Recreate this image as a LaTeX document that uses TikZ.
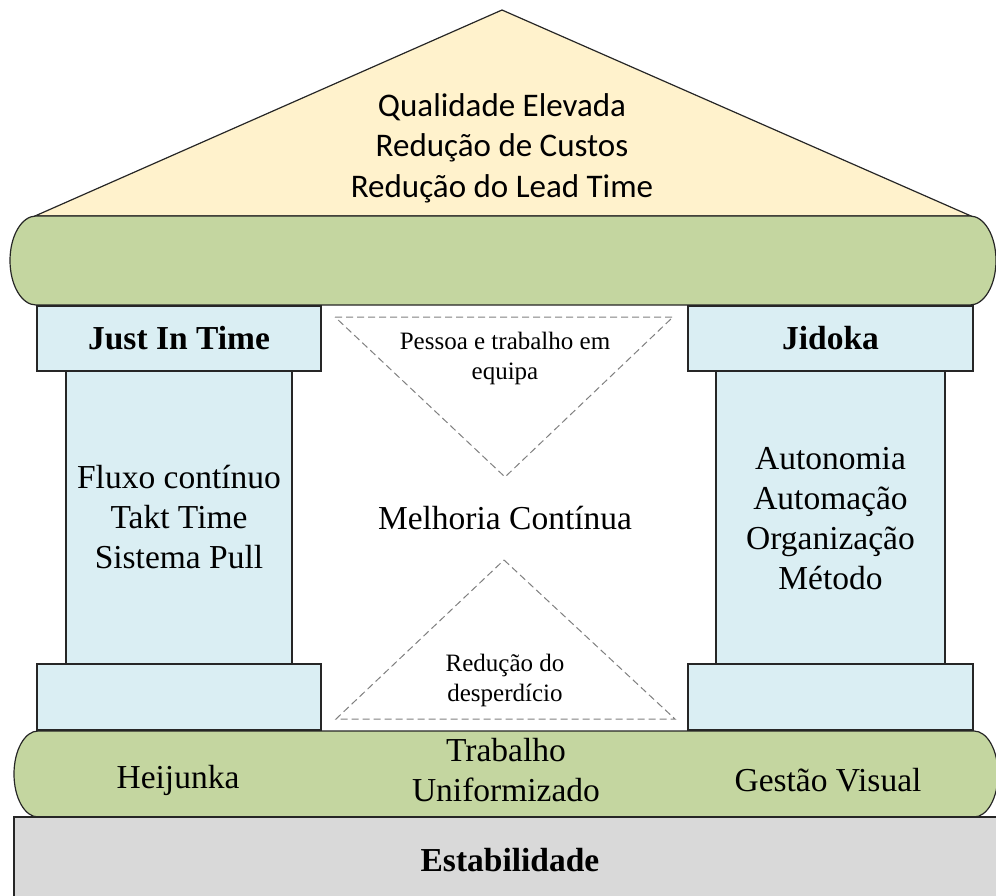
\documentclass[tikz,border=0pt]{standalone}
\usepackage{fontspec}
\setmainfont{Liberation Serif}
\newfontfamily\carlito{Carlito}
\definecolor{roofc}{HTML}{FFF2CC}
\definecolor{bandc}{HTML}{C4D6A0}
\definecolor{pilc}{HTML}{DAEEF3}
\definecolor{basec}{HTML}{D9D9D9}
\definecolor{linec}{HTML}{262626}
\definecolor{dashc}{HTML}{7F7F7F}
\begin{document}
\begin{tikzpicture}[x=1pt,y=-1pt,
  part/.style={draw=linec,line width=1.2pt,fill=pilc,inner sep=0pt,align=center},
  bigtxt/.style={font=\fontsize{33.5}{40}\selectfont,align=center,inner sep=0pt},
  smalltxt/.style={font=\fontsize{25}{30}\selectfont,align=center,inner sep=0pt},
  dashtri/.style={draw=dashc,line width=1pt,dash pattern=on 7pt off 4pt}]
\useasboundingbox (0,0) rectangle (996,896);
% roof
\draw[fill=roofc,draw=linec,line width=1.2pt] (35,216) -- (502,10) -- (971,216) -- cycle;
\node[font=\carlito\fontsize{33}{40.5}\selectfont,align=center,inner sep=0pt] (roof) at (502,148)
  {Qualidade Elevada\\Redução de Custos\\Redução do Lead Time};
% top band
\draw[fill=bandc,draw=linec,line width=1.2pt] (36,216) -- (970,216)
  arc[start angle=90,end angle=-90,x radius=26pt,y radius=44.5pt] -- (36,305)
  arc[start angle=270,end angle=90,x radius=26pt,y radius=44.5pt] -- cycle;
% left pillar
\node[part,minimum width=226pt,minimum height=293pt] (jitshaft) at (179,517.5) {};
\node[part,minimum width=284pt,minimum height=65pt] (jitcap) at (179,338.5) {};
\node[part,minimum width=284pt,minimum height=66pt] (jitbase) at (179,697) {};
\node[font=\bfseries\fontsize{33.5}{40}\selectfont,inner sep=0pt] (jit) at (jitcap) {Just In Time};
\node[bigtxt] (jittxt) at (179,517.5) {Fluxo contínuo\\Takt Time\\Sistema Pull};
% right pillar
\node[part,minimum width=229pt,minimum height=293pt] (jidshaft) at (830.5,517.5) {};
\node[part,minimum width=285pt,minimum height=65pt] (jidcap) at (830.5,338.5) {};
\node[part,minimum width=285pt,minimum height=66pt] (jidbase) at (830.5,697) {};
\node[font=\bfseries\fontsize{33.5}{40}\selectfont,inner sep=0pt] (jid) at (jidcap) {Jidoka};
\node[bigtxt] (jidtxt) at (830.5,519) {Autonomia\\Automação\\Organização\\Método};
% center
\draw[dashtri] (335,317) -- (673,317) -- (505,477) -- cycle;
\node[smalltxt] (pessoa) at (505,358) {Pessoa e trabalho em\\equipa};
\node[bigtxt] (melhoria) at (505,518) {Melhoria Contínua};
\draw[dashtri] (504,560) -- (675,719) -- (336,719) -- cycle;
\node[smalltxt] (reducao) at (505,680) {Redução do\\desperdício};
% bottom band
\draw[fill=bandc,draw=linec,line width=1.2pt] (38,731) -- (974,731)
  arc[start angle=90,end angle=-90,x radius=24pt,y radius=43pt] -- (38,817)
  arc[start angle=270,end angle=90,x radius=24pt,y radius=43pt] -- cycle;
\node[bigtxt] (heij) at (178,780) {Heijunka};
\node[bigtxt] (trab) at (506,770) {Trabalho\\Uniformizado};
\node[bigtxt] (gestao) at (828,780) {Gestão Visual};
% foundation
\draw[fill=basec,draw=linec,line width=1.2pt] (14,817) rectangle (1004,904);
\node[font=\bfseries\fontsize{33.5}{40}\selectfont,inner sep=0pt] (estab) at (510,860) {Estabilidade};
\end{tikzpicture}
\end{document}
